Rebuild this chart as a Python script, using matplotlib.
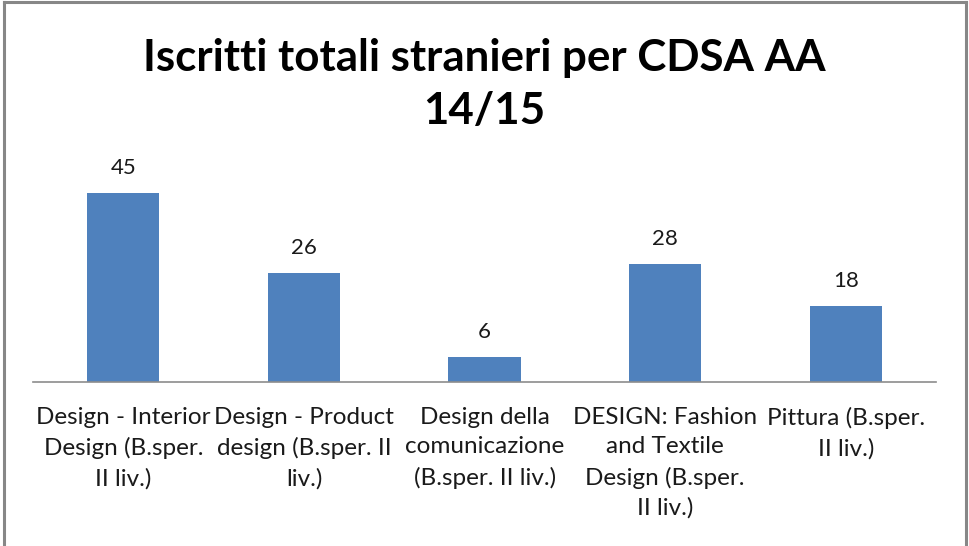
import matplotlib.pyplot as plt
from matplotlib.lines import Line2D

# data
categories = [
    "Design - Interior\nDesign (B.sper.\nII liv.)",
    "Design - Product\ndesign (B.sper. II\nliv.)",
    "Design della\ncomunicazione\n(B.sper. II liv.)",
    "DESIGN: Fashion\nand Textile\nDesign (B.sper.\nII liv.)",
    "Pittura (B.sper.\nII liv.)",
]
values = [45, 26, 6, 28, 18]

plt.rcParams['font.family'] = ['Lato', 'DejaVu Sans']

fig = plt.figure(figsize=(9.69, 5.46), dpi=100)
ax = fig.add_axes([0.0341, 0.3004, 0.932, 0.3846])

x = range(len(values))
bars = ax.bar(x, values, width=0.4, color='#4F81BD')
ax.bar_label(bars, padding=11, fontsize=16, color='#1a1a1a')

ax.set_xlim(-0.5, len(values) - 0.5)
ax.set_ylim(0, 50)
ax.set_xticks(list(x))
ax.set_xticklabels(categories, fontsize=17.5, color='#1a1a1a', linespacing=1.5, va='top')
ax.tick_params(axis='x', length=0, pad=18)
ax.set_yticks([])
for s in ['top', 'right', 'left']:
    ax.spines[s].set_visible(False)
ax.spines['bottom'].set_color('#8c8c8c')
ax.spines['bottom'].set_linewidth(1.2)

fig.text(0.5, 0.845, "Iscritti totali stranieri per CDSA AA\n14/15",
         ha='center', va='center', fontsize=31.6, fontweight='bold',
         linespacing=1.4, color='black')

# outer chart frame
frame_color = '#878787'
fig.add_artist(Line2D([0.0045, 0.0045], [0, 0.997], transform=fig.transFigure, color=frame_color, lw=2.2))
fig.add_artist(Line2D([0.0045, 0.9965], [0.997, 0.997], transform=fig.transFigure, color=frame_color, lw=2.2))
fig.add_artist(Line2D([0.9965, 0.9965], [0, 0.997], transform=fig.transFigure, color=frame_color, lw=2.2))

fig.savefig('out.png', dpi=100)
